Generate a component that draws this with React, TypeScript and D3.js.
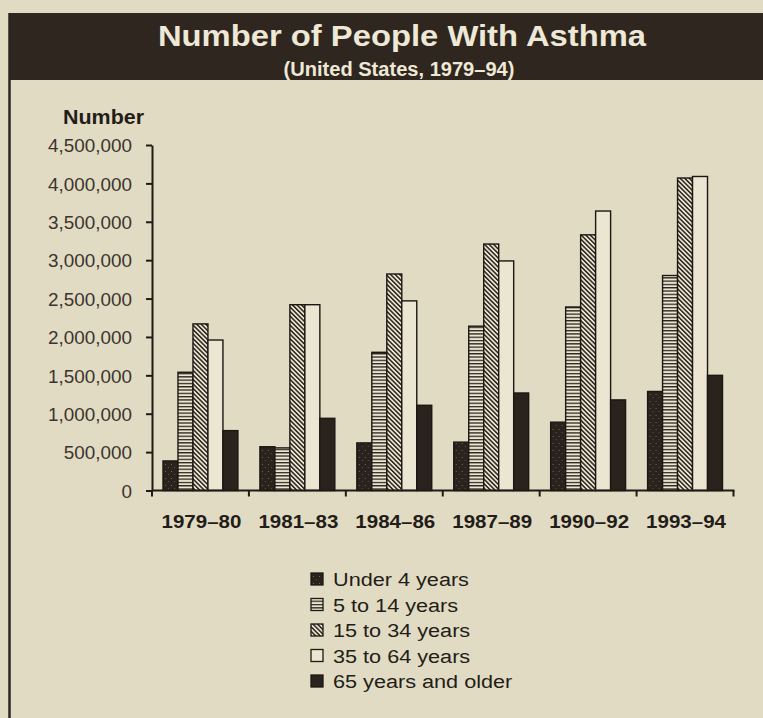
import React, { useEffect, useRef } from 'react';
import * as d3 from 'd3';

// ---- data ----
const periods = ['1979–80', '1981–83', '1984–86', '1987–89', '1990–92', '1993–94'];
const ageGroups = ['Under 4 years', '5 to 14 years', '15 to 34 years', '35 to 64 years', '65 years and older'];

const under4 = [385000, 570000, 620000, 630000, 890000, 1290000];
const age5to14 = [1540000, 555000, 1800000, 2140000, 2390000, 2800000];
const age15to34 = [2170000, 2420000, 2820000, 3210000, 3330000, 4070000];
const age35to64 = [1960000, 2420000, 2470000, 2990000, 3640000, 4090000];
const age65plus = [780000, 940000, 1110000, 1270000, 1180000, 1500000];

const yTicks = [0, 500000, 1000000, 1500000, 2000000, 2500000, 3000000, 3500000, 4000000, 4500000];

const seriesValues = [under4, age5to14, age15to34, age35to64, age65plus];
const seriesFills = ['url(#stipple)', 'url(#hstripe)', 'url(#diag)', '#ebe5d2', '#2a231d'];

const W = 763;
const H = 718;
const BG = '#e2dbc3';
const DARK = '#2a231d';
const LIGHT = '#ece6d3';
const FONT = '"Liberation Sans", Arial, Helvetica, sans-serif';

const App: React.FC = () => {
  const svgRef = useRef<SVGSVGElement>(null);

  useEffect(() => {
    document.body.style.margin = '0';
    document.body.style.background = BG;
    if (!svgRef.current) return;

    const svg = d3.select(svgRef.current);
    svg.selectAll('*').remove();

    const plot = { left: 152, right: 733.5, top: 145, bottom: 490.5 };

    // patterns
    const defs = svg.append('defs');
    const st = defs.append('pattern').attr('id', 'stipple')
      .attr('patternUnits', 'userSpaceOnUse').attr('width', 6).attr('height', 7);
    st.append('rect').attr('width', 6).attr('height', 7).attr('fill', DARK);
    st.append('rect').attr('x', 1).attr('y', 2).attr('width', 1).attr('height', 1).attr('fill', '#6f665b');
    st.append('rect').attr('x', 4).attr('y', 5).attr('width', 1).attr('height', 1).attr('fill', '#5a5248');

    const hs = defs.append('pattern').attr('id', 'hstripe')
      .attr('patternUnits', 'userSpaceOnUse').attr('width', 4).attr('height', 3.3);
    hs.append('rect').attr('width', 4).attr('height', 3.3).attr('fill', LIGHT);
    hs.append('rect').attr('y', 0).attr('width', 4).attr('height', 1.3).attr('fill', DARK);

    const dg = defs.append('pattern').attr('id', 'diag')
      .attr('patternUnits', 'userSpaceOnUse').attr('width', 3.2).attr('height', 3.2)
      .attr('patternTransform', 'rotate(-45)');
    dg.append('rect').attr('width', 3.2).attr('height', 3.2).attr('fill', LIGHT);
    dg.append('rect').attr('width', 1.5).attr('height', 3.2).attr('fill', DARK);

    // background + frame
    svg.append('rect').attr('width', W).attr('height', H).attr('fill', BG);
    svg.append('rect').attr('x', 10).attr('y', 13).attr('width', W - 10).attr('height', 67).attr('fill', '#2e261f');
    svg.append('line').attr('x1', 9.5).attr('x2', 9.5).attr('y1', 13).attr('y2', H)
      .attr('stroke', '#2b251f').attr('stroke-width', 2.5);

    const stretched = (x: number, y: number, sx: number, txt: string) =>
      svg.append('text')
        .attr('transform', `translate(${x},${y}) scale(${sx},1)`)
        .style('font-family', FONT)
        .text(txt);

    // titles
    stretched(402, 46, 1.13, 'Number of People With Asthma')
      .attr('text-anchor', 'middle').attr('fill', '#eee8d6')
      .style('font-size', '29px').style('font-weight', 'bold');
    stretched(399, 76, 1.03, '(United States, 1979–94)')
      .attr('text-anchor', 'middle').attr('fill', '#eee8d6')
      .style('font-size', '19.5px').style('font-weight', 'bold');

    // y axis label
    stretched(63, 124, 1.1, 'Number')
      .attr('fill', '#221d18').style('font-size', '19.5px').style('font-weight', 'bold');

    // scales
    const x0 = d3.scaleBand<string>().domain(periods).range([plot.left, plot.right]).padding(0);
    const x1 = d3.scaleBand<number>().domain(d3.range(ageGroups.length))
      .range([11, x0.bandwidth() - 11]).padding(0);
    const y = d3.scaleLinear().domain([0, 4500000]).range([plot.bottom, plot.top]);

    // y axis
    const yAxis = svg.append('g')
      .attr('transform', `translate(${plot.left},0)`)
      .call(d3.axisLeft(y).tickValues(yTicks).tickSize(6).tickSizeOuter(0).tickFormat(d3.format(',')));
    yAxis.select('.domain').attr('stroke', '#1f1a16').attr('stroke-width', 2);
    yAxis.selectAll('.tick line').attr('stroke', '#1f1a16').attr('stroke-width', 2);
    yAxis.selectAll('.tick text')
      .attr('x', null).attr('dy', '0.36em')
      .attr('transform', 'translate(-20,0) scale(1.02,1)')
      .attr('fill', '#3a342e')
      .style('font-family', FONT).style('font-size', '18.5px');

    // bars
    const groups = svg.append('g').selectAll('g.period')
      .data(periods)
      .enter()
      .append('g')
      .attr('class', 'period')
      .attr('transform', (d) => `translate(${x0(d)},0)`);

    groups.selectAll('rect')
      .data((_, i) => seriesValues.map((vals, s) => ({ s, v: vals[i] })))
      .enter()
      .append('rect')
      .attr('x', (d) => x1(d.s) as number)
      .attr('y', (d) => y(d.v))
      .attr('width', x1.bandwidth())
      .attr('height', (d) => plot.bottom - y(d.v))
      .attr('fill', (d) => seriesFills[d.s])
      .attr('stroke', '#1c1713')
      .attr('stroke-width', 1.4);

    // x axis line + boundary ticks
    const xg = svg.append('g');
    xg.append('line')
      .attr('x1', plot.left).attr('x2', plot.right + 1)
      .attr('y1', plot.bottom).attr('y2', plot.bottom)
      .attr('stroke', '#1f1a16').attr('stroke-width', 2);
    const bounds = periods.map((p) => x0(p) as number).concat([plot.right]);
    xg.selectAll('line.tk')
      .data(bounds)
      .enter()
      .append('line')
      .attr('class', 'tk')
      .attr('x1', (d) => d).attr('x2', (d) => d)
      .attr('y1', plot.bottom).attr('y2', plot.bottom + 6)
      .attr('stroke', '#1f1a16').attr('stroke-width', 2);

    periods.forEach((p) => {
      stretched((x0(p) as number) + x0.bandwidth() / 2 + 1, 528, 1.08, p)
        .attr('text-anchor', 'middle').attr('fill', '#221d18')
        .style('font-size', '19px').style('font-weight', 'bold');
    });

    // legend
    ageGroups.forEach((name, i) => {
      const cy = 579 + i * 25.5;
      svg.append('rect')
        .attr('x', 311).attr('y', cy - 6).attr('width', 12).attr('height', 12)
        .attr('fill', seriesFills[i]).attr('stroke', '#1c1713').attr('stroke-width', 1.3);
      stretched(333, cy + 7, 1.14, name)
        .attr('fill', '#221d18').style('font-size', '19px');
    });
  }, []);

  return (
    <svg ref={svgRef} width={W} height={H} viewBox={`0 0 ${W} ${H}`} style={{ display: 'block' }} />
  );
};

export default App;
